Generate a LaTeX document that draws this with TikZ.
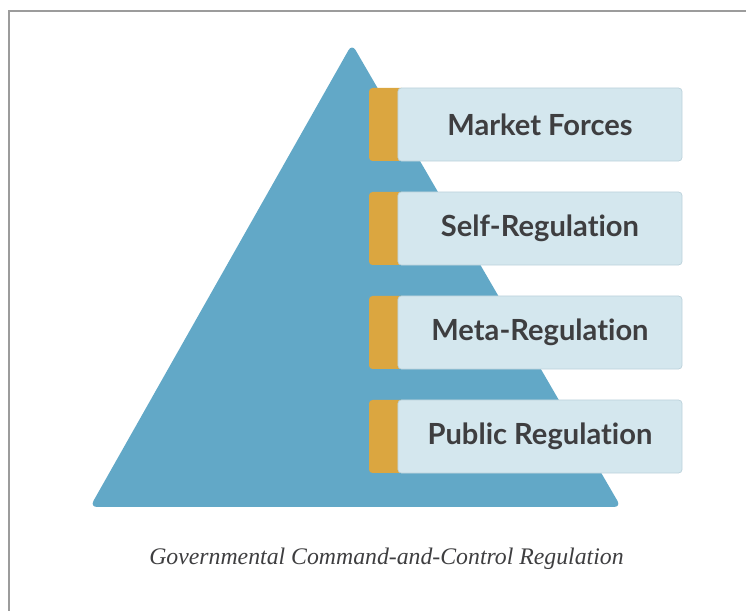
\documentclass[tikz,border=0pt]{standalone}
\usepackage{fontspec}
\usepackage{tikz}
\usetikzlibrary{positioning}
\newfontfamily\tierfont{Lato}[Ligatures=NoCommon]
\newfontfamily\capfont{Liberation Serif}
\definecolor{PyrBlue}{HTML}{62A8C7}
\definecolor{TierBlue}{HTML}{D4E7EE}
\definecolor{TierEdge}{HTML}{BCD2DB}
\definecolor{TierGold}{HTML}{DBA640}
\definecolor{InkGray}{HTML}{3E3E40}
\definecolor{FrameGray}{HTML}{9C9C9C}
\tikzset{
  tier/.style={draw=TierEdge,fill=TierBlue,rounded corners=2.5pt,line width=.5pt,
    minimum width=7.1cm,minimum height=1.825cm,inner sep=0pt,
    font=\tierfont\bfseries\fontsize{20.7}{22}\selectfont,text=InkGray},
  caption/.style={font=\capfont\itshape\fontsize{16.9}{18}\selectfont,text=InkGray}
}

\begin{document}
\begin{tikzpicture}[x=.025cm,y=.025cm]
\useasboundingbox (0,0) rectangle (746,611);
% frame
\draw[FrameGray,line width=1.4pt] (9,0) -- (9,600) -- (746,600);
% pyramid
\fill[PyrBlue,rounded corners=5pt] (90,104) -- (352,567) -- (621,104) -- cycle;
% tiers, top to bottom
\foreach \name/\txt [count=\i] in {market/Market Forces,self/Self-Regulation,meta/Meta-Regulation,public/Public Regulation}{
  \fill[TierGold,rounded corners=2.5pt] (369,{523-104*(\i-1)}) rectangle ++(36,-73);
  \node[tier] (\name) at (540,{486.5-104*(\i-1)}) {\txt};
}
\node[caption] (base) at (386.5,52) {Governmental Command-and-Control Regulation};
\end{tikzpicture}
\end{document}
